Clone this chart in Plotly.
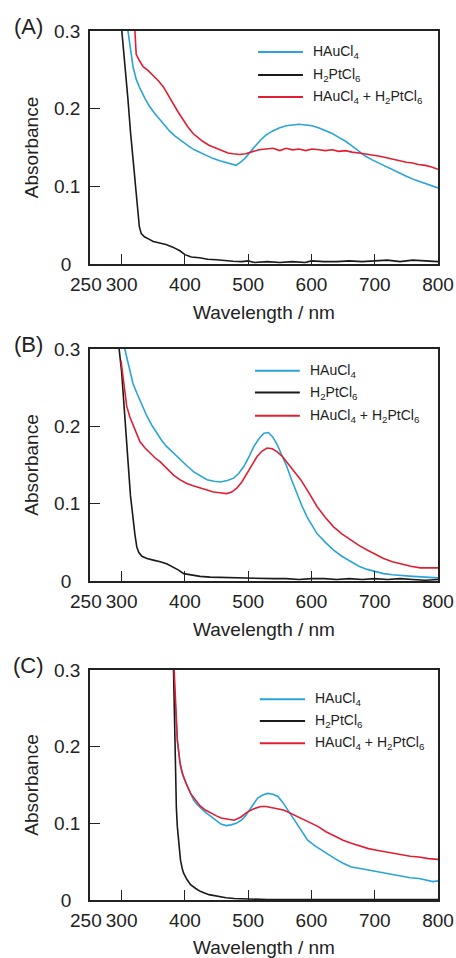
import plotly.graph_objects as go

# ---------------- data ----------------
series_names = ["HAuCl<sub>4</sub>", "H<sub>2</sub>PtCl<sub>6</sub>",
                "HAuCl<sub>4</sub> + H<sub>2</sub>PtCl<sub>6</sub>"]
series_colors = ["#2aa4d8", "#1a1a1a", "#e01f33"]
panel_labels = ["(A)", "(B)", "(C)"]
x_min, x_max = 250, 800
x_tickvals = [300, 400, 500, 600, 700, 800]
x_ticktext = ["300", "400", "500", "600", "700", "800"]
x_first_label = "250"
y_tickvals = [0, 0.1, 0.2, 0.3]
y_ticktext = ["0\u00a0\u2009", "0.1", "0.2", "0.3"]

# Panel A
A_au_wl = [310, 314, 318, 323, 329, 337, 344, 352, 360, 368, 376, 384, 392, 400, 407, 415, 423,
           433, 444, 455, 465, 473, 481, 488, 496, 504, 512, 520, 528, 538, 549, 560, 570, 580,
           591, 601, 612, 622, 633, 643, 654, 664, 675, 685, 696, 706, 717, 727, 738, 750, 764,
           775, 785, 793, 800]
A_au_ab = [0.300, 0.280, 0.254, 0.238, 0.226, 0.213, 0.203, 0.194, 0.186, 0.178, 0.171, 0.165,
           0.160, 0.155, 0.151, 0.147, 0.144, 0.140, 0.136, 0.133, 0.131, 0.129, 0.127, 0.131,
           0.137, 0.145, 0.153, 0.160, 0.166, 0.171, 0.175, 0.178, 0.179, 0.180, 0.179, 0.178,
           0.175, 0.172, 0.168, 0.163, 0.158, 0.152, 0.145, 0.139, 0.134, 0.130, 0.126, 0.122,
           0.118, 0.113, 0.108, 0.105, 0.102, 0.100, 0.098]
A_pt_wl = [297, 301, 305, 310, 314, 318, 320, 322, 325, 328, 331, 336, 343, 350, 360, 370, 380,
           386, 392, 400, 410, 423, 436, 450, 465, 476, 490, 500, 510, 530, 550, 570, 590, 600,
           620, 640, 660, 680, 700, 720, 740, 760, 780, 800]
A_pt_ab = [0.330, 0.295, 0.258, 0.212, 0.170, 0.127, 0.118, 0.100, 0.070, 0.048, 0.039, 0.035,
           0.032, 0.029, 0.027, 0.025, 0.022, 0.020, 0.017, 0.012, 0.009, 0.008, 0.006, 0.0055,
           0.004, 0.0035, 0.003, 0.004, 0.002, 0.003, 0.002, 0.003, 0.002, 0.004, 0.003, 0.003,
           0.004, 0.003, 0.004, 0.005, 0.003, 0.005, 0.004, 0.003]
A_mix_wl = [321, 323, 328, 334, 342, 350, 358, 366, 373, 381, 389, 397, 405, 413, 420, 428, 438,
            449, 460, 468, 476, 486, 496, 506, 517, 528, 539, 550, 560, 570, 580, 591, 601, 612,
            622, 633, 643, 654, 664, 675, 685, 696, 706, 717, 727, 738, 750, 760, 769, 780, 790,
            800]
A_mix_ab = [0.300, 0.270, 0.262, 0.254, 0.249, 0.243, 0.236, 0.228, 0.218, 0.207, 0.196, 0.186,
            0.176, 0.168, 0.163, 0.158, 0.153, 0.149, 0.146, 0.143, 0.142, 0.141, 0.142, 0.144,
            0.147, 0.148, 0.149, 0.146, 0.149, 0.147, 0.148, 0.146, 0.148, 0.147, 0.146, 0.147,
            0.145, 0.146, 0.144, 0.143, 0.142, 0.140, 0.139, 0.137, 0.135, 0.133, 0.131, 0.130,
            0.128, 0.127, 0.125, 0.122]

# Panel B
B_au_wl = [305, 308, 313, 318, 324, 332, 340, 348, 356, 363, 371, 382, 392, 403, 414, 424, 435,
           446, 456, 467, 477, 485, 493, 501, 509, 517, 525, 532, 539, 546, 553, 561, 569, 577,
           585, 593, 601, 609, 622, 635, 648, 662, 675, 688, 701, 714, 728, 741, 760, 780, 800]
B_au_ab = [0.300, 0.289, 0.269, 0.255, 0.243, 0.227, 0.213, 0.201, 0.191, 0.182, 0.174, 0.165,
           0.157, 0.149, 0.141, 0.136, 0.131, 0.129, 0.128, 0.130, 0.133, 0.139, 0.148, 0.160,
           0.174, 0.184, 0.191, 0.192, 0.186, 0.176, 0.163, 0.148, 0.130, 0.113, 0.097, 0.083,
           0.071, 0.061, 0.050, 0.040, 0.032, 0.025, 0.019, 0.015, 0.012, 0.0095, 0.008, 0.007,
           0.006, 0.005, 0.004]
B_pt_wl = [294, 296, 300, 303, 307, 311, 314, 316, 318, 321, 324, 327, 332, 340, 350, 361, 372,
           382, 390, 398, 410, 424, 440, 460, 477, 500, 520, 540, 560, 580, 600, 620, 640, 660,
           680, 700, 720, 740, 760, 780, 800]
B_pt_ab = [0.330, 0.300, 0.270, 0.234, 0.185, 0.139, 0.110, 0.096, 0.080, 0.060, 0.044, 0.037,
           0.032, 0.029, 0.027, 0.025, 0.022, 0.018, 0.014, 0.0095, 0.008, 0.006, 0.005, 0.0045,
           0.004, 0.004, 0.003, 0.003, 0.003, 0.002, 0.003, 0.003, 0.002, 0.003, 0.002, 0.003,
           0.002, 0.003, 0.002, 0.001, 0.002]
B_mix_wl = [299, 302, 305, 308, 313, 319, 324, 329, 337, 345, 353, 361, 371, 382, 392, 403, 413,
            424, 434, 445, 455, 466, 474, 482, 490, 498, 506, 514, 522, 530, 538, 546, 554, 561,
            572, 583, 596, 609, 622, 635, 648, 662, 675, 688, 701, 714, 728, 741, 757, 772, 786,
            800]
B_mix_ab = [0.285, 0.265, 0.245, 0.226, 0.212, 0.200, 0.190, 0.180, 0.172, 0.165, 0.159, 0.154,
            0.146, 0.137, 0.131, 0.126, 0.123, 0.120, 0.117, 0.115, 0.114, 0.113, 0.115, 0.120,
            0.128, 0.139, 0.151, 0.161, 0.168, 0.172, 0.171, 0.167, 0.161, 0.154, 0.143, 0.131,
            0.114, 0.096, 0.082, 0.070, 0.061, 0.053, 0.046, 0.040, 0.035, 0.029, 0.025, 0.022,
            0.019, 0.017, 0.017, 0.017]

# Panel C
C_au_wl = [383, 385, 388, 393, 398, 404, 409, 414, 420, 425, 433, 441, 449, 457, 465, 473, 481,
           489, 496, 502, 509, 515, 523, 531, 539, 547, 555, 563, 571, 579, 587, 594, 605, 616,
           626, 637, 650, 663, 677, 690, 703, 716, 730, 743, 756, 770, 785, 792, 800]
C_au_ab = [0.283, 0.250, 0.209, 0.174, 0.160, 0.148, 0.138, 0.130, 0.124, 0.120, 0.114, 0.109,
           0.104, 0.099, 0.097, 0.098, 0.100, 0.104, 0.110, 0.117, 0.125, 0.133, 0.137, 0.139,
           0.138, 0.135, 0.127, 0.117, 0.106, 0.096, 0.087, 0.078, 0.071, 0.065, 0.059, 0.054,
           0.048, 0.043, 0.041, 0.039, 0.037, 0.035, 0.032, 0.030, 0.029, 0.028, 0.025, 0.024,
           0.025]
C_pt_wl = [382, 383, 384, 385, 386.5, 388, 390, 393, 396, 398, 403, 409, 417, 425, 438, 451, 465,
           478, 490, 504, 530, 560, 600, 650, 700, 750, 800]
C_pt_ab = [0.300, 0.260, 0.200, 0.157, 0.120, 0.096, 0.075, 0.052, 0.040, 0.035, 0.027, 0.020,
           0.015, 0.011, 0.007, 0.005, 0.003, 0.002, 0.0015, 0.001, 0.0005, 0.0005, 0.0005, 0.0,
           0.0, 0.0005, 0.0005]
C_mix_wl = [383, 385, 388, 392, 396, 402, 409, 417, 425, 433, 441, 449, 457, 468, 478, 488, 499,
            509, 520, 528, 536, 546, 557, 570, 584, 597, 610, 623, 637, 650, 663, 677, 690, 703,
            716, 730, 743, 756, 770, 785, 800]
C_mix_ab = [0.300, 0.260, 0.209, 0.180, 0.165, 0.152, 0.139, 0.130, 0.122, 0.117, 0.113, 0.110,
            0.107, 0.105, 0.104, 0.108, 0.115, 0.119, 0.122, 0.122, 0.121, 0.119, 0.117, 0.112,
            0.107, 0.101, 0.096, 0.089, 0.083, 0.078, 0.074, 0.070, 0.067, 0.065, 0.063, 0.061,
            0.059, 0.057, 0.056, 0.054, 0.053]

panels = [
    [(A_au_wl, A_au_ab), (A_pt_wl, A_pt_ab), (A_mix_wl, A_mix_ab)],
    [(B_au_wl, B_au_ab), (B_pt_wl, B_pt_ab), (B_mix_wl, B_mix_ab)],
    [(C_au_wl, C_au_ab), (C_pt_wl, C_pt_ab), (C_mix_wl, C_mix_ab)],
]

# ---------------- layout constants ----------------
W, H = 456, 958
M_L, M_R, M_T, M_B = 90, 18, 31, 58
y_domains = [[0.7319, 1.0], [0.3671, 0.6341], [0.0, 0.2647]]
# legend geometry per panel (axis-domain fractions): line x0, x1, text x, row ys
legend_geo = [
    (0.483, 0.612, 0.635, [0.910, 0.811, 0.717]),
    (0.474, 0.603, 0.626, [0.906, 0.812, 0.7125]),
    (0.488, 0.618, 0.642, [0.873, 0.778, 0.681]),
]
FONT = "Liberation Sans, Arial, sans-serif"
TXT = "#222222"

fig = go.Figure()
annotations = []
shapes = []
for p, traces in enumerate(panels):
    sfx = "" if p == 0 else str(p + 1)
    for s, (wl, ab) in enumerate(traces):
        fig.add_trace(go.Scatter(x=wl, y=ab, mode="lines", name=series_names[s],
                                 line=dict(color=series_colors[s], width=1.6),
                                 xaxis="x" + sfx, yaxis="y" + sfx, showlegend=False,
                                 cliponaxis=True))
    ax = dict(range=[x_min, x_max], tickvals=x_tickvals, ticktext=x_ticktext, tickangle=0,
              ticks="inside", ticklen=10, automargin=False,
              tickwidth=1.3, tickcolor="#222", showline=True, linecolor="#222", linewidth=1.5,
              mirror=True, showgrid=False, zeroline=False, domain=[0, 1],
              anchor="y" + sfx, tickfont=dict(size=19, color=TXT, family=FONT),
              ticklabelstandoff=2, ticklabeloverflow="allow",
              title=dict(text="Wavelength / nm", font=dict(size=19, color=TXT, family=FONT),
                         standoff=12))
    ay = dict(range=[0, 0.3], tickvals=y_tickvals, ticktext=y_ticktext, ticks="inside",
              ticklen=10, tickwidth=1.3, tickcolor="#222", showline=True, linecolor="#222",
              linewidth=1.5, mirror=True, showgrid=False, zeroline=False, domain=y_domains[p],
              anchor="x" + sfx, tickfont=dict(size=19, color=TXT, family=FONT),
              ticklabelstandoff=4, automargin=False,
              title=dict(text="Absorbance", font=dict(size=19, color=TXT, family=FONT),
                         standoff=10))
    fig.update_layout({"xaxis" + sfx: ax, "yaxis" + sfx: ay})

    # first x tick label, nudged left as in the reference
    annotations.append(dict(text=x_first_label, xref="x" + sfx, yref="y" + sfx + " domain",
                            x=x_min, y=0, xanchor="center", yanchor="top", xshift=-4,
                            yshift=-8, showarrow=False,
                            font=dict(size=19, color=TXT, family=FONT)))

    # legend drawn inside each panel
    lx0, lx1, tx, rows = legend_geo[p]
    for s in range(3):
        shapes.append(dict(type="line", xref="x" + sfx + " domain", yref="y" + sfx + " domain",
                           x0=lx0, x1=lx1, y0=rows[s], y1=rows[s],
                           line=dict(color=series_colors[s], width=2)))
        annotations.append(dict(text=series_names[s], xref="x" + sfx + " domain",
                                yref="y" + sfx + " domain", x=tx, y=rows[s], xanchor="left",
                                yanchor="middle", showarrow=False,
                                font=dict(size=14, color=TXT, family=FONT)))
    # panel label
    annotations.append(dict(text=panel_labels[p], xref="paper", yref="y" + sfx + " domain",
                            x=-0.178, y=1.02, xanchor="center", yanchor="middle", showarrow=False,
                            font=dict(size=22, color=TXT, family=FONT)))

fig.update_layout(width=W, height=H, margin=dict(l=M_L, r=M_R, t=M_T, b=M_B),
                  paper_bgcolor="white", plot_bgcolor="white", showlegend=False,
                  annotations=annotations, shapes=shapes)
# remove the default page margin so the figure fills the window exactly
fig.write_html("out.html", config={"displayModeBar": False},
               post_script="document.body.style.margin='0';"
                           "document.body.style.overflow='hidden';")
